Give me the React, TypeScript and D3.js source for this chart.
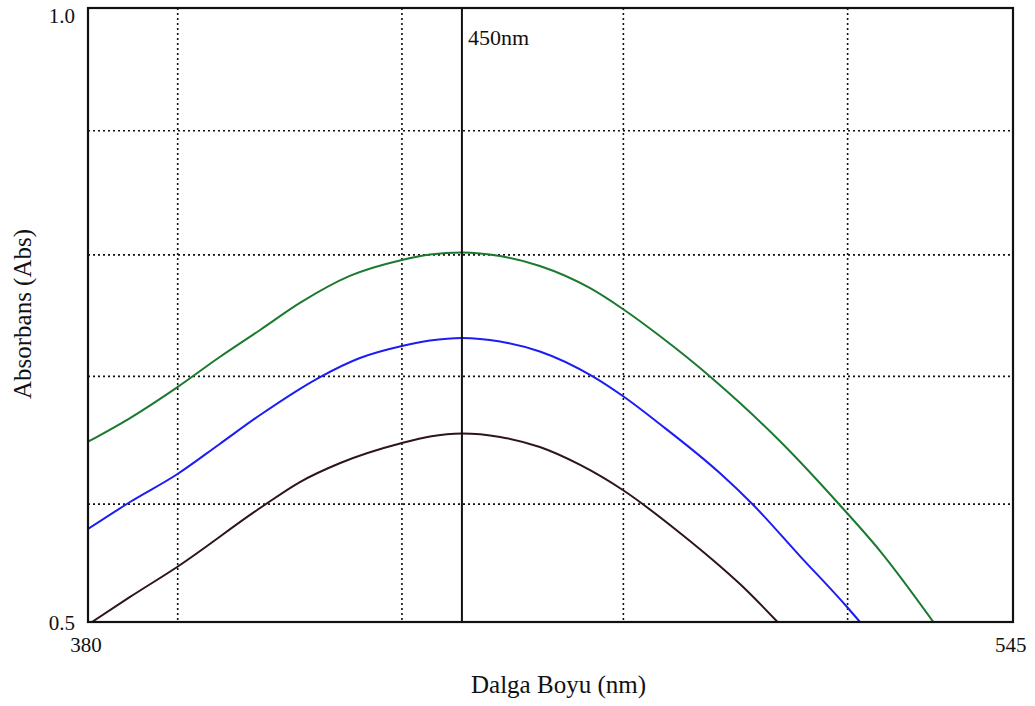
import React from "react";
import * as d3 from "d3";

const xDomain = [380, 545];
const yDomain = [0.5, 1.0];
const xGridValues = [396, 436, 475.5, 515.5];
const yGridValues = [0.9, 0.799, 0.7, 0.596];
const markerNm = 446.7;
const markerLabel = "450nm";
const xTickLabels = ["380", "545"];
const yTickLabels = ["0.5", "1.0"];

const greenNm = [380.0, 387.5, 395.9, 403.5, 410.7, 417.8, 426.7, 436.0, 441.0, 446.7, 453.5, 460.6, 469.5, 475.4, 482.0, 491.0, 496.3, 503.4, 514.1, 521.3, 530.8];
const greenAbs = [0.6468, 0.6661, 0.6911, 0.7158, 0.7378, 0.7598, 0.7818, 0.7948, 0.7993, 0.8009, 0.7980, 0.7899, 0.7720, 0.7549, 0.7329, 0.6998, 0.6783, 0.6474, 0.5953, 0.5578, 0.5];

const blueNm = [380, 387.5, 395.9, 403.5, 410.7, 421.4, 428.5, 436.0, 441.0, 446.7, 453.5, 460.6, 470.1, 475.4, 482.0, 492.7, 498.5, 507.0, 515.4, 517.7];
const blueAbs = [0.5757, 0.5977, 0.6203, 0.6450, 0.6686, 0.6995, 0.7150, 0.7248, 0.7292, 0.7313, 0.7284, 0.7203, 0.6998, 0.6840, 0.6612, 0.6213, 0.5961, 0.5537, 0.5122, 0.5];

const darkNm = [380.7, 387.5, 395.9, 410.7, 417.8, 425.0, 436.0, 441.0, 446.7, 453.5, 460.6, 467.8, 475.4, 485.6, 492.7, 496.3, 503.0];
const darkAbs = [0.5, 0.5204, 0.5448, 0.5928, 0.6140, 0.6295, 0.6458, 0.6511, 0.6535, 0.6507, 0.6425, 0.6279, 0.6075, 0.5725, 0.5456, 0.5309, 0.5];

const W = 1035;
const H = 706;
const L = 88, R = 1013, T = 8, B = 622;
const FONT = "'Liberation Serif', 'DejaVu Serif', serif";

export default function App() {
  const x = d3.scaleLinear().domain(xDomain).range([L, R]);
  const y = d3.scaleLinear().domain(yDomain).range([B, T]);
  const line = d3
    .line<[number, number]>()
    .x((d) => x(d[0]))
    .y((d) => y(d[1]))
    .curve(d3.curveMonotoneX);
  const series = [
    { nm: greenNm, abs: greenAbs, color: "#1b7a30" },
    { nm: blueNm, abs: blueAbs, color: "#1c1cf5" },
    { nm: darkNm, abs: darkAbs, color: "#2e1518" },
  ];
  return (
    <svg
      width={W}
      height={H}
      style={{ position: "absolute", left: 0, top: 0, display: "block", background: "#fff" }}
    >
      <defs>
        <clipPath id="plot">
          <rect x={L} y={T} width={R - L} height={B - T} />
        </clipPath>
      </defs>
      {xGridValues.map((v, i) => (
        <line key={"xg" + i} x1={x(v)} x2={x(v)} y1={T} y2={B} stroke="#111" strokeWidth={1.6} strokeDasharray="2,3" />
      ))}
      {yGridValues.map((v, i) => (
        <line key={"yg" + i} x1={L} x2={R} y1={y(v)} y2={y(v)} stroke="#111" strokeWidth={1.6} strokeDasharray="2,3" />
      ))}
      <g clipPath="url(#plot)">
        {series.map((s, i) => (
          <path
            key={"s" + i}
            d={line(s.nm.map((n, j) => [n, s.abs[j]] as [number, number])) || ""}
            fill="none"
            stroke={s.color}
            strokeWidth={2}
          />
        ))}
      </g>
      <line x1={x(markerNm)} x2={x(markerNm)} y1={T} y2={B} stroke="#111" strokeWidth={2} />
      <text x={x(markerNm) + 6} y={45} fontFamily={FONT} fontSize={22} fill="#111">{markerLabel}</text>
      <rect x={L} y={T} width={R - L} height={B - T} fill="none" stroke="#111" strokeWidth={2.2} />
      <text x={L - 13} y={y(yDomain[1]) + 15} textAnchor="end" fontFamily={FONT} fontSize={21} fill="#111">{yTickLabels[1]}</text>
      <text x={L - 13} y={y(yDomain[0]) + 8} textAnchor="end" fontFamily={FONT} fontSize={21} fill="#111">{yTickLabels[0]}</text>
      <text x={x(xDomain[0]) - 2} y={B + 30} textAnchor="middle" fontFamily={FONT} fontSize={21} fill="#111">{xTickLabels[0]}</text>
      <text x={x(xDomain[1]) - 18} y={B + 30} textAnchor="start" fontFamily={FONT} fontSize={21} fill="#111">{xTickLabels[1]}</text>
      <text x={(L + R) / 2 + 8} y={693} textAnchor="middle" fontFamily={FONT} fontSize={25} fill="#111">Dalga Boyu (nm)</text>
      <text
        transform={`translate(31, ${314}) rotate(-90)`}
        textAnchor="middle"
        fontFamily={FONT}
        fontSize={25}
        fill="#111"
      >
        Absorbans (Abs)
      </text>
    </svg>
  );
}
